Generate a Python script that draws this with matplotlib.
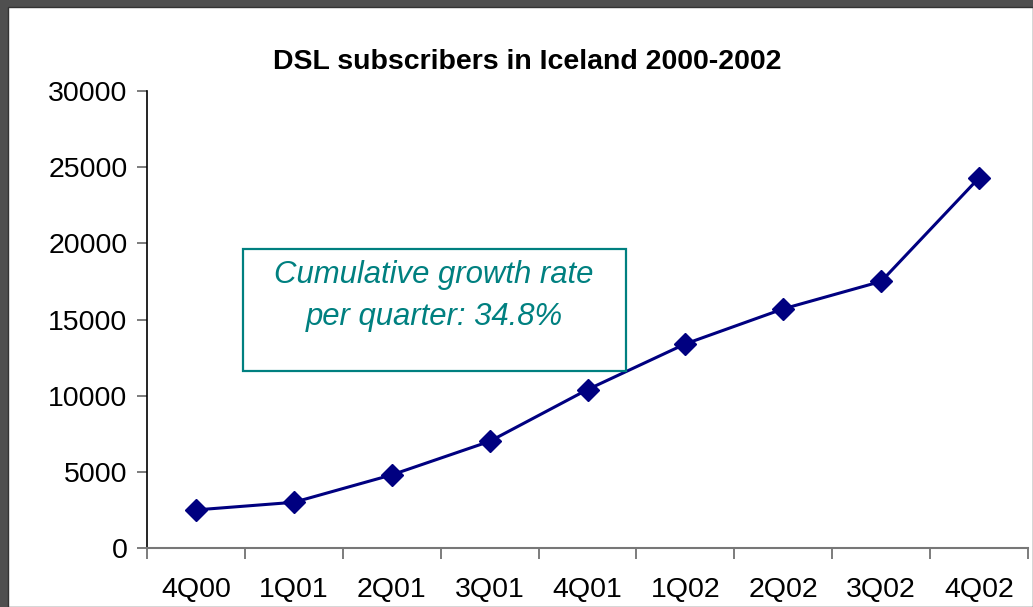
import matplotlib
matplotlib.use("Agg")
import matplotlib.pyplot as plt
from matplotlib.patches import Rectangle
from matplotlib.ticker import FixedLocator, NullFormatter

# Quarterly DSL subscriber counts
quarters = ["4Q00", "1Q01", "2Q01", "3Q01", "4Q01", "1Q02", "2Q02", "3Q02", "4Q02"]
subscribers = [2500, 3000, 4800, 7000, 10400, 13400, 15700, 17500, 24300]
y_ticks = [0, 5000, 10000, 15000, 20000, 25000, 30000]

title = "DSL subscribers in Iceland 2000-2002"
note = "Cumulative growth rate\nper quarter: 34.8%"

W, H = 1033, 607
fig = plt.figure(figsize=(W / 100, H / 100), dpi=100)
fig.patch.set_facecolor("#4f4f4f")
# white slide area inside the dark frame
fig.patches.append(Rectangle((8 / W, 0), 1 - 8 / W, 1 - 7 / H,
                             transform=fig.transFigure, facecolor="white",
                             edgecolor="#333333", linewidth=1.0, zorder=-1))

font = "Liberation Sans"
ax = fig.add_axes([147 / W, 59 / H, (1028 - 147) / W, 457 / H])
ax.set_facecolor("none")
ax.set_zorder(1)

x = list(range(len(quarters)))
ax.plot(x, subscribers, color="#000080", linewidth=2.2, marker="D",
        markersize=11, markerfacecolor="#000080", markeredgecolor="#000080",
        clip_on=False, zorder=3)

ax.set_xlim(-0.5, len(quarters) - 0.5)
ax.set_ylim(0, 30000)

# category boundaries carry the ticks, labels sit at category centres
ax.xaxis.set_major_locator(FixedLocator([i - 0.5 for i in range(len(quarters) + 1)]))
ax.xaxis.set_major_formatter(NullFormatter())
ax.set_xticks(x, minor=True)
ax.set_xticklabels(quarters, minor=True, fontsize=20.5, fontfamily=font)
ax.tick_params(axis="x", which="major", direction="out", length=8, width=1.2,
               color="#666666")
ax.tick_params(axis="x", which="minor", length=0, pad=21)

ax.set_yticks(y_ticks)
ax.set_yticklabels([str(v) for v in y_ticks], fontsize=20.5, fontfamily=font)
ax.tick_params(axis="y", direction="out", length=7, width=1.2, color="#666666",
               pad=7)

for side in ("top", "right"):
    ax.spines[side].set_visible(False)
ax.spines["left"].set_color("black")
ax.spines["left"].set_linewidth(1.2)
ax.spines["bottom"].set_color("#777777")
ax.spines["bottom"].set_linewidth(1.5)

fig.text(527 / W, 1 - 62 / H, title, ha="center", va="center",
         fontsize=20.5, fontweight="bold", fontfamily=font)

# annotation box
fig.patches.append(Rectangle((243 / W, 1 - 371 / H), (626 - 243) / W, (371 - 249) / H,
                             transform=fig.transFigure, facecolor="white",
                             edgecolor="#008080", linewidth=1.6, zorder=4))
fig.text(434 / W, 1 - 296 / H, note, ha="center", va="center", color="#008080",
         fontsize=22.4, fontstyle="italic", fontfamily=font, linespacing=1.5,
         zorder=5)

fig.savefig("out.png", dpi=100, facecolor=fig.get_facecolor())
